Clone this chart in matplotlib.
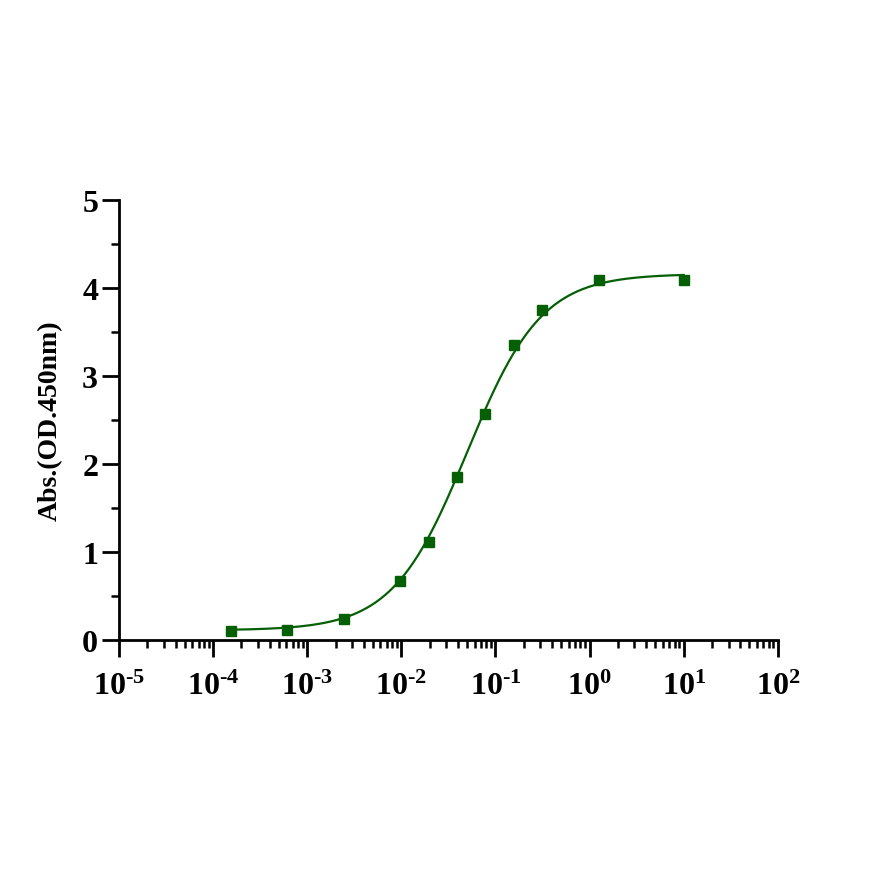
import numpy as np
import matplotlib
matplotlib.use("Agg")
import matplotlib.pyplot as plt
from matplotlib.ticker import LogLocator, MultipleLocator, NullFormatter, FixedFormatter, FixedLocator

plt.rcParams['font.family'] = ['Liberation Serif', 'DejaVu Serif']
plt.rcParams['font.weight'] = 'bold'
plt.rcParams['mathtext.fontset'] = 'custom'
plt.rcParams['mathtext.rm'] = 'Liberation Serif:bold'
plt.rcParams['mathtext.bf'] = 'Liberation Serif:bold'
plt.rcParams['mathtext.it'] = 'Liberation Serif:bold'

# measured points
conc = [0.000153, 0.00061, 0.00244, 0.00977, 0.0195, 0.039, 0.078, 0.156, 0.3125, 1.25, 10.0]
absorb = [0.10, 0.11, 0.24, 0.67, 1.11, 1.85, 2.57, 3.35, 3.75, 4.09, 4.09]

# 4PL fit parameters
bottom = 0.11
top = 4.16
ec50 = 0.05
hill = 1.1

x_ticks = [1e-5, 1e-4, 1e-3, 1e-2, 1e-1, 1e0, 1e1, 1e2]
x_labels = [r'$\mathrm{10^{\text{-}5}}$', r'$\mathrm{10^{\text{-}4}}$', r'$\mathrm{10^{\text{-}3}}$',
            r'$\mathrm{10^{\text{-}2}}$', r'$\mathrm{10^{\text{-}1}}$', r'$\mathrm{10^{0}}$',
            r'$\mathrm{10^{1}}$', r'$\mathrm{10^{2}}$']

green = '#056005'

fig = plt.figure(figsize=(8.7, 8.7), dpi=100)
ax = fig.add_axes([0.1368, 0.2632, 0.7572, 0.5058])

xs = np.logspace(np.log10(conc[0]), np.log10(conc[-1]), 400)
ys = bottom + (top - bottom) / (1 + (ec50 / xs) ** hill)
ax.plot(xs, ys, color=green, lw=1.6)
ax.plot(conc, absorb, 's', color=green, ms=7.5, mec=green)

ax.set_xscale('log')
ax.set_xlim(1e-5, 1e2)
ax.set_ylim(0, 5)

ax.xaxis.set_major_locator(FixedLocator(x_ticks))
ax.xaxis.set_major_formatter(FixedFormatter(x_labels))
ax.xaxis.set_minor_locator(LogLocator(base=10, subs=np.arange(2, 10), numticks=20))
ax.xaxis.set_minor_formatter(NullFormatter())
ax.yaxis.set_major_locator(MultipleLocator(1))
ax.yaxis.set_minor_locator(MultipleLocator(0.5))

for s in ['top', 'right']:
    ax.spines[s].set_visible(False)
for s in ['left', 'bottom']:
    ax.spines[s].set_linewidth(2)

ax.tick_params(which='major', length=12, width=2, labelsize=23)
ax.tick_params(which='minor', length=6, width=1.8)
ax.tick_params(axis='x', which='major', pad=11)
ax.tick_params(axis='y', which='major', pad=3)

ax.set_ylabel('Abs.(OD.450nm)', fontsize=20, fontweight='bold', labelpad=14)

fig.savefig('out.png', dpi=100)
